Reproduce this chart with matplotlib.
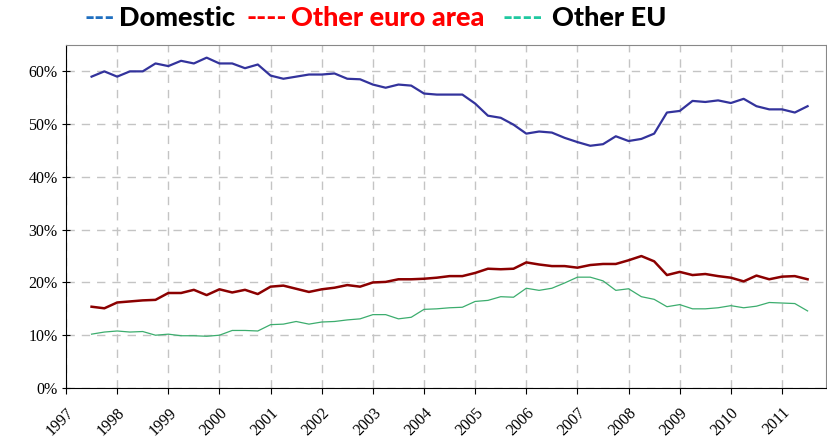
import numpy as np
import matplotlib
matplotlib.use("Agg")
import matplotlib.pyplot as plt
from matplotlib.ticker import PercentFormatter

# quarterly observations, 1997 Q3 .. 2011 Q3
quarters = np.arange(1997.5, 2011.5 + 0.01, 0.25)

domestic = [59.0, 60.0,
            59.0, 60.0, 60.0, 61.5,
            61.0, 62.0, 61.5, 62.6,
            61.5, 61.5, 60.6, 61.3,
            59.2, 58.6, 59.0, 59.4,
            59.4, 59.6, 58.6, 58.5,
            57.5, 56.9, 57.5, 57.3,
            55.8, 55.6, 55.6, 55.6,
            53.9, 51.6, 51.2, 49.9,
            48.2, 48.6, 48.4, 47.4,
            46.6, 45.9, 46.2, 47.7,
            46.8, 47.2, 48.2, 52.2,
            52.5, 54.4, 54.2, 54.5,
            54.0, 54.8, 53.4, 52.8,
            52.8, 52.2, 53.4]

other_euro = [15.4, 15.1,
              16.2, 16.4, 16.6, 16.7,
              18.0, 18.0, 18.6, 17.6,
              18.7, 18.1, 18.6, 17.8,
              19.2, 19.4, 18.8, 18.2,
              18.7, 19.0, 19.5, 19.2,
              20.0, 20.1, 20.6, 20.6,
              20.7, 20.9, 21.2, 21.2,
              21.8, 22.6, 22.5, 22.6,
              23.8, 23.4, 23.1, 23.1,
              22.8, 23.3, 23.5, 23.5,
              24.2, 25.0, 24.0, 21.4,
              22.0, 21.4, 21.6, 21.2,
              20.9, 20.2, 21.3, 20.6,
              21.1, 21.2, 20.6]

other_eu = [10.2, 10.6,
            10.8, 10.6, 10.7, 10.0,
            10.2, 9.9, 9.9, 9.8,
            10.0, 10.9, 10.9, 10.8,
            12.0, 12.1, 12.6, 12.1,
            12.5, 12.6, 12.9, 13.1,
            13.9, 13.9, 13.1, 13.4,
            14.9, 15.0, 15.2, 15.3,
            16.4, 16.6, 17.3, 17.2,
            18.9, 18.5, 18.9, 19.9,
            21.0, 21.0, 20.3, 18.5,
            18.8, 17.3, 16.8, 15.4,
            15.8, 15.0, 15.0, 15.2,
            15.6, 15.2, 15.5, 16.2,
            16.1, 16.0, 14.6]

years = list(range(1997, 2012))

fig = plt.figure(figsize=(8.27, 4.38), dpi=100)
ax = fig.add_axes([0.0798, 0.1142, 0.9190, 0.7831])

ax.plot(quarters, domestic, color="#33339c", lw=1.6, zorder=3)
ax.plot(quarters, other_euro, color="#8b0000", lw=1.8, zorder=3)
ax.plot(quarters, other_eu, color="#3cad6e", lw=0.9, zorder=3)

ax.set_xlim(1997, 2011.86)
ax.set_ylim(0, 65)
ax.set_yticks(np.arange(0, 61, 10))
ax.yaxis.set_major_formatter(PercentFormatter(decimals=0))
ax.set_xticks(years)
ax.set_xticklabels([str(y) for y in years], rotation=45, ha="right",
                   rotation_mode="anchor")

for lab in ax.get_xticklabels() + ax.get_yticklabels():
    lab.set_family("Liberation Serif")
    lab.set_fontsize(11.5)

ax.grid(True, color="#c4c4c4", linestyle=(0, (6, 5)), lw=1)
ax.set_axisbelow(True)

ax.spines["left"].set_color("black")
ax.spines["bottom"].set_color("black")
ax.spines["top"].set_color("#888888")
ax.spines["right"].set_color("#888888")
ax.tick_params(axis="x", direction="out", length=4, pad=8)
ax.tick_params(axis="y", direction="inout", length=6, pad=3)

# legend drawn as coloured text pieces along the top
def top_text(x_px, s, color):
    fig.text(x_px / 827, 1 - 18 / 438, s, color=color, fontsize=19.5,
             fontweight="black", family="Lato", va="center", ha="left")

top_text(84, "---", "#1f6fc0")
top_text(119, "Domestic", "black")
top_text(247, "----", "#ff0000")
top_text(291, "Other euro area", "#ff0000")
top_text(503, "----", "#1fc8a0")
top_text(552, "Other EU", "black")

fig.savefig("out.png", dpi=100)
